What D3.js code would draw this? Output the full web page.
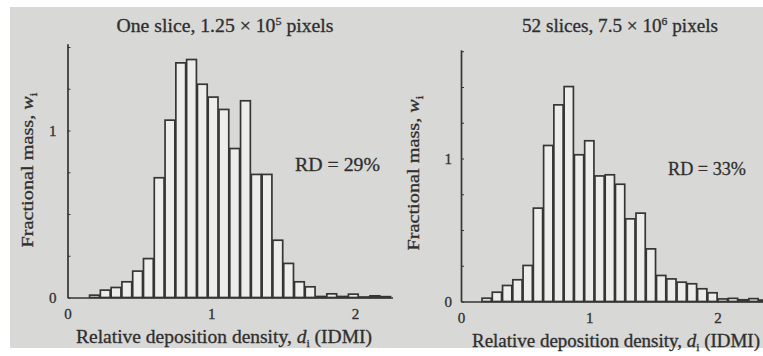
<!DOCTYPE html>
<html>
<head>
<meta charset="utf-8">
<script src="https://cdn.jsdelivr.net/npm/d3@7"></script>
<style>
  html, body { margin: 0; padding: 0; background: #fff; }
  svg text { font-family: "Liberation Serif", "DejaVu Serif", serif; fill: #2f2f2f; stroke: #2f2f2f; stroke-width: 0.3px; }
</style>
</head>
<body>
<div id="chart"></div>
<script>
// bin lower edges (IDMI) and fractional mass per bin
const leftBinStarts = [0.15, 0.225, 0.3, 0.375, 0.45, 0.525, 0.6, 0.675, 0.75, 0.825,
  0.9, 0.975, 1.05, 1.125, 1.2, 1.275, 1.35, 1.425, 1.5, 1.575,
  1.65, 1.725, 1.8, 1.875, 1.95, 2.025, 2.1, 2.175];
const leftMass = [0.014, 0.044, 0.06, 0.094, 0.158, 0.233, 0.717, 1.062, 1.405, 1.425,
  1.277, 1.2, 1.126, 0.892, 1.178, 0.737, 0.737, 0.343, 0.204, 0.094,
  0.064, 0.006, 0.022, 0.006, 0.02, 0.003, 0.01, 0.005];
const leftBinWidth = 0.075;

const rightBinStarts = [0.16, 0.24, 0.32, 0.4, 0.48, 0.56, 0.64, 0.72, 0.8, 0.88,
  0.96, 1.04, 1.12, 1.2, 1.28, 1.36, 1.44, 1.52, 1.6, 1.68,
  1.76, 1.84, 1.92, 2.0, 2.08, 2.16, 2.24, 2.32];
const rightMass = [0.023, 0.065, 0.112, 0.152, 0.252, 0.653, 1.091, 1.375, 1.503, 1.026,
  1.124, 0.878, 0.886, 0.82, 0.578, 0.618, 0.368, 0.182, 0.158, 0.135,
  0.124, 0.089, 0.061, 0.018, 0.022, 0.012, 0.02, 0.01];
const rightBinWidth = 0.08;

const xTickValues = [0, 1, 2];
const yTickLabels = [0, 1];

const W = 763, H = 356;

const svg = d3.select('#chart')
    .append('svg')
    .attr('width', W)
    .attr('height', H);

// scanned page: gray paper with thin white margin top/left/bottom
svg.append('rect')
    .attr('x', 10).attr('y', 7)
    .attr('width', W - 10).attr('height', 341)
    .attr('fill', '#d8d8d6');

function drawPanel(p) {
  const xScale = d3.scaleLinear().domain([0, p.xMax]).range([p.x0, p.x0 + p.xMax * p.xUnit]);
  const yScale = d3.scaleLinear().domain([0, p.yMax]).range([p.y0, p.y0 - p.yMax * p.yUnit]);

  const g = svg.append('g');

  // bars
  g.selectAll('rect.bar')
      .data(p.starts.map((s, i) => ({start: s, mass: p.mass[i]})))
      .enter()
      .append('rect')
      .attr('class', 'bar')
      .attr('x', d => xScale(d.start) + 0.5)
      .attr('width', d => xScale(d.start + p.binWidth) - xScale(d.start) - 1)
      .attr('y', d => yScale(d.mass))
      .attr('height', d => yScale(0) - yScale(d.mass))
      .attr('fill', '#ededeb')
      .attr('stroke', '#363636')
      .attr('stroke-width', 1.7);

  // x axis
  const xAx = g.append('g')
      .attr('transform', 'translate(0,' + p.y0 + ')')
      .call(d3.axisBottom(xScale).tickValues(xTickValues).tickSize(0).tickSizeOuter(0)
          .tickPadding(11).tickFormat(d3.format('d')));
  xAx.select('.domain').attr('stroke', '#363636').attr('stroke-width', 1.7);
  xAx.selectAll('text').style('font-size', '15px').attr('fill', '#3a3a3a');

  // y axis, small inward ticks every 0.25, labels at 0 and 1 only
  const yAx = g.append('g')
      .attr('transform', 'translate(' + p.x0 + ',0)')
      .call(d3.axisLeft(yScale).tickValues(d3.range(0, p.yMax + 0.01, 0.25))
          .tickSize(-3).tickSizeOuter(0).tickPadding(p.yPad)
          .tickFormat(d => yTickLabels.includes(d) ? d3.format('d')(d) : ''));
  yAx.select('.domain').attr('stroke', '#363636').attr('stroke-width', 1.7);
  yAx.selectAll('line').attr('stroke', '#363636');
  yAx.selectAll('text').style('font-size', '15px').attr('fill', '#3a3a3a');

  // title
  const t = g.append('text')
      .attr('x', p.titleX).attr('y', 32)
      .attr('text-anchor', 'middle')
      .attr('textLength', p.titleLen).attr('lengthAdjust', 'spacingAndGlyphs')
      .style('font-size', '18px');
  t.append('tspan').text(p.titleA);
  t.append('tspan').attr('dy', -7).style('font-size', '11px').text(p.titleExp);
  t.append('tspan').attr('dy', 7).text(' pixels');

  // x label
  const xl = g.append('text')
      .attr('x', p.xLabX).attr('y', p.xLabY)
      .attr('text-anchor', 'middle')
      .attr('textLength', p.xLabLen).attr('lengthAdjust', 'spacingAndGlyphs')
      .style('font-size', '18px');
  xl.append('tspan').text('Relative deposition density, ');
  xl.append('tspan').style('font-style', 'italic').text('d');
  xl.append('tspan').attr('dy', 4).style('font-size', '11px').text('i');
  xl.append('tspan').attr('dy', -4).text(' (IDMI)');

  // y label
  const yl = g.append('text')
      .attr('transform', 'translate(' + p.yLabX + ',' + p.yLabY + ') rotate(-90)')
      .attr('text-anchor', 'middle')
      .attr('textLength', 155).attr('lengthAdjust', 'spacingAndGlyphs')
      .style('font-size', '17px');
  yl.append('tspan').text('Fractional mass, ');
  yl.append('tspan').style('font-style', 'italic').text('w');
  yl.append('tspan').attr('dy', 4).style('font-size', '11px').text('i');

  // RD annotation
  g.append('text')
      .attr('x', p.rdX).attr('y', p.rdY)
      .attr('textLength', p.rdLen).attr('lengthAdjust', 'spacingAndGlyphs')
      .style('font-size', '19px')
      .text(p.rd);
}

drawPanel({
  starts: leftBinStarts, mass: leftMass, binWidth: leftBinWidth,
  x0: 67.5, xUnit: 143.8, xMax: 2.26,
  y0: 297.5, yUnit: 167, yMax: 1.52, yPad: 11,
  titleA: 'One slice, 1.25 \u00d7 10', titleExp: '5', titleX: 225, titleLen: 217,
  xLabX: 224, xLabY: 343, xLabLen: 296,
  yLabX: 33, yLabY: 170,
  rd: 'RD = 29%', rdX: 295, rdY: 171, rdLen: 85
});

drawPanel({
  starts: rightBinStarts, mass: rightMass, binWidth: rightBinWidth,
  x0: 461, xUnit: 128.3, xMax: 2.36,
  y0: 301.5, yUnit: 143, yMax: 1.76, yPad: 9,
  titleA: '52 slices, 7.5 \u00d7 10', titleExp: '6', titleX: 620, titleLen: 196,
  xLabX: 616, xLabY: 347, xLabLen: 288,
  yLabX: 419, yLabY: 173,
  rd: 'RD = 33%', rdX: 668, rdY: 175, rdLen: 78
});
</script>
</body>
</html>
